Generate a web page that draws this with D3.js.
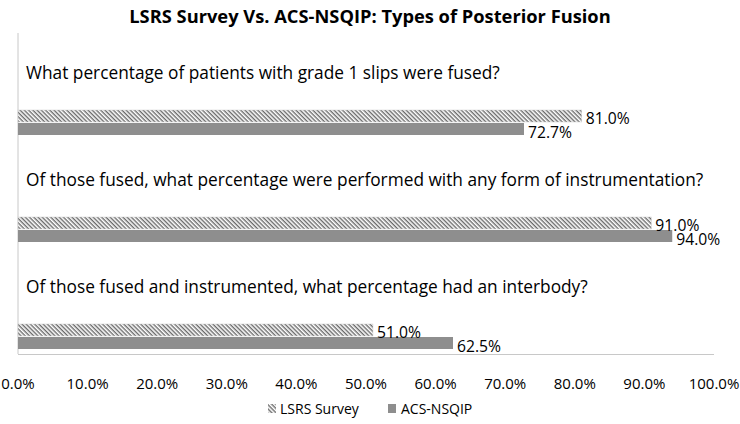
<!DOCTYPE html>
<html>
<head>
<meta charset="utf-8">
<script src="https://cdn.jsdelivr.net/npm/d3@7"></script>
<style>
  body { margin: 0; background: #fff; }
  text { font-family: "Open Sans", "Liberation Sans", sans-serif; fill: #000; }
</style>
</head>
<body>
<script>
//chart data
var questions = [
    "What percentage of patients with grade 1 slips were fused?",
    "Of those fused, what percentage were performed with any form of instrumentation?",
    "Of those fused and instrumented, what percentage had an interbody?"
];
var lsrsSurvey = [81.0, 91.0, 51.0];
var acsNsqip = [72.7, 94.0, 62.5];
var tickValues = [0, 10, 20, 30, 40, 50, 60, 70, 80, 90, 100];
var seriesNames = ["LSRS Survey", "ACS-NSQIP"];

var width = 740, height = 424;

var svg = d3.select("body").append("svg")
    .attr("width", width)
    .attr("height", height);

//hatch pattern for the survey series
var defs = svg.append("defs");
var pat = defs.append("pattern")
    .attr("id", "hatch")
    .attr("patternUnits", "userSpaceOnUse")
    .attr("width", 3)
    .attr("height", 3)
    .attr("patternTransform", "rotate(45)");
pat.append("rect").attr("width", 3).attr("height", 3).attr("fill", "#fff");
pat.append("rect").attr("width", 3).attr("height", 1.4).attr("fill", "#6a6a6a");

var x = d3.scaleLinear().domain([0, 100]).range([18, 714]);
var y = d3.scaleBand().domain(questions).range([33, 354]);
var barH = 12;

//title
svg.append("text")
    .attr("x", 370).attr("y", 23)
    .attr("text-anchor", "middle")
    .style("font-size", "18.3px")
    .style("font-weight", "bold")
    .text("LSRS Survey Vs. ACS-NSQIP: Types of Posterior Fusion");

//axis lines
svg.append("line")
    .attr("x1", x(0)).attr("x2", x(0))
    .attr("y1", 33).attr("y2", 354)
    .attr("stroke", "#c8c8c8").attr("stroke-width", 1);
svg.append("line")
    .attr("x1", x(0)).attr("x2", x(100))
    .attr("y1", 354.5).attr("y2", 354.5)
    .attr("stroke", "#c8c8c8").attr("stroke-width", 1);

//question labels
svg.selectAll(".question")
    .data(questions)
    .enter().append("text")
    .attr("class", "question")
    .attr("x", 26)
    .attr("y", function(d) { return y(d) + 46; })
    .style("font-size", "17.3px")
    .text(function(d) { return d; });

//bars
svg.selectAll(".lsrs")
    .data(lsrsSurvey)
    .enter().append("rect")
    .attr("class", "lsrs")
    .attr("x", x(0))
    .attr("y", function(d, i) { return y(questions[i]) + 77; })
    .attr("width", function(d) { return x(d) - x(0); })
    .attr("height", barH)
    .attr("fill", "url(#hatch)")
    .attr("stroke", "#d0d0d0").attr("stroke-width", 0.5);

svg.selectAll(".nsqip")
    .data(acsNsqip)
    .enter().append("rect")
    .attr("class", "nsqip")
    .attr("x", x(0))
    .attr("y", function(d, i) { return y(questions[i]) + 90; })
    .attr("width", function(d) { return x(d) - x(0); })
    .attr("height", barH)
    .attr("fill", "#8e8e8e");

//value labels
svg.selectAll(".lsrsLabel")
    .data(lsrsSurvey)
    .enter().append("text")
    .attr("x", function(d) { return x(d) + 4; })
    .attr("y", function(d, i) { return y(questions[i]) + 91; })
    .style("font-size", "15.7px")
    .text(function(d) { return d.toFixed(1) + "%"; });

svg.selectAll(".nsqipLabel")
    .data(acsNsqip)
    .enter().append("text")
    .attr("x", function(d) { return x(d) + 4; })
    .attr("y", function(d, i) { return y(questions[i]) + 105; })
    .style("font-size", "15.7px")
    .text(function(d) { return d.toFixed(1) + "%"; });

//x tick labels
svg.selectAll(".tick")
    .data(tickValues)
    .enter().append("text")
    .attr("x", function(d) { return x(d); })
    .attr("y", 389)
    .attr("text-anchor", "middle")
    .style("font-size", "15px")
    .text(function(d) { return d.toFixed(1) + "%"; });

//legend
var legend = svg.append("g");
legend.append("rect")
    .attr("x", 268).attr("y", 404).attr("width", 8).attr("height", 9)
    .attr("fill", "url(#hatch)");
legend.append("text")
    .attr("x", 280).attr("y", 414)
    .style("font-size", "14px")
    .text(seriesNames[0]);
legend.append("rect")
    .attr("x", 388).attr("y", 404).attr("width", 8).attr("height", 9)
    .attr("fill", "#8e8e8e");
legend.append("text")
    .attr("x", 401).attr("y", 414)
    .style("font-size", "14px")
    .text(seriesNames[1]);
</script>
</body>
</html>
